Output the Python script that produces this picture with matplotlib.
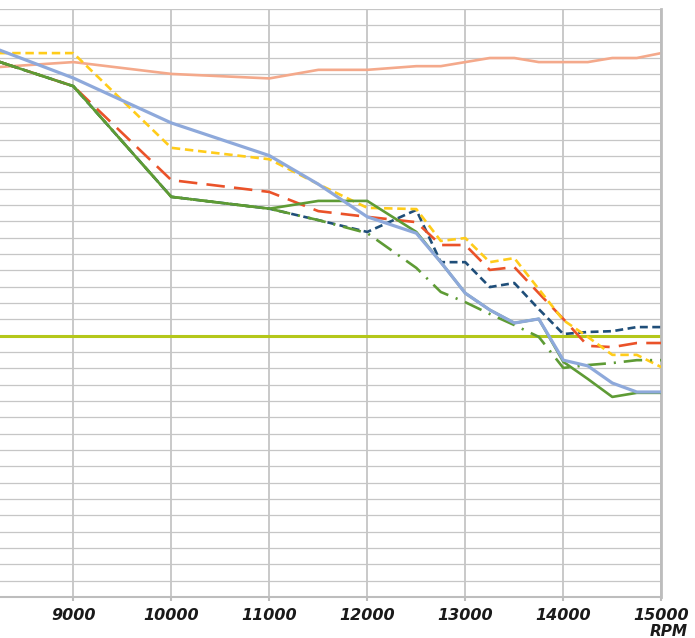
import numpy as np
import matplotlib
matplotlib.use('Agg')
import matplotlib.pyplot as plt

plt.rcParams['font.family'] = 'DejaVu Sans'
plt.rcParams['font.size'] = 11.5

######## data (y in chart units, one grid step = 4) ########
rpm = [8000, 9000, 10000, 11000, 11500, 12000, 12500, 12750, 13000,
       13250, 13500, 13750, 14000, 14250, 14500, 14750, 15000]

salmon = [129.4, 131.0, 128.1, 127.0, 129.1, 129.1, 130.0, 130.0, 131.0,
          132.0, 132.0, 131.0, 131.0, 131.0, 132.0, 132.0, 133.2]
yellow = [133.2, 133.2, 110.0, 107.2, 101.1, 95.3, 95.0, 87.2, 87.9,
          82.0, 83.0, 75.4, 67.8, 63.7, 59.3, 59.3, 56.3]
red = [133.0, 125.1, 102.1, 99.2, 94.5, 93.1, 91.8, 86.2, 86.2,
       80.1, 80.8, 74.4, 68.1, 61.5, 61.2, 62.2, 62.2]
navy = [133.0, 125.1, 98.0, 95.1, 92.3, 89.4, 94.8, 82.0, 82.0,
        75.9, 76.9, 70.5, 64.4, 64.9, 65.1, 66.1, 66.1]
green_dd = [133.0, 125.1, 98.0, 95.1, 92.3, 89.1, 80.6, 74.7, 72.2,
            69.3, 66.6, 63.7, 56.1, 56.8, 57.3, 58.0, 58.0]
green = [133.0, 125.1, 98.0, 95.1, 97.0, 97.0, 89.4, 82.0, 74.4,
         70.3, 67.1, 68.1, 57.6, 53.4, 49.0, 50.0, 50.0]
lavender = [136.2, 127.1, 116.1, 108.1, 101.1, 93.1, 89.1, 82.0, 74.4,
            70.3, 67.1, 68.1, 58.0, 56.6, 52.4, 50.2, 50.2]
limit = 64

xticks = [8000, 9000, 10000, 11000, 12000, 13000, 14000, 15000]

fig = plt.figure(figsize=(6.95, 6.38), dpi=100)
# axes run off the left edge of the picture, like the cropped original
ax = fig.add_axes([-24.7/695, 41/638, 686/695, 588/638])

ax.set_xlim(8000, 15000)
ax.set_ylim(0, 144)
ax.set_xticks(xticks)
ax.set_yticks(np.arange(0, 145, 4))

########### grid ###########
ax.grid(axis='y', color='#c6c6c6', linewidth=0.9, zorder=0)
ax.grid(axis='x', color='#c0c0c0', linewidth=1.2, zorder=0)
ax.set_axisbelow(True)

########### limit line ###########
ax.axhline(limit, color='#b4c71a', linewidth=2.2, zorder=1)

########### series ###########
ax.plot(rpm, salmon, color='#f4a98b', linewidth=1.9, zorder=2)
ax.plot(rpm, navy, color='#1f4e79', linewidth=1.9, dashes=[3, 1.7], zorder=3)
ax.plot(rpm, red, color='#ea5229', linewidth=1.9, dashes=[7, 3.5], zorder=4)
ax.plot(rpm, yellow, color='#ffcc1a', linewidth=1.9, dashes=[3.2, 1.8], zorder=5)
ax.plot(rpm, green_dd, color='#5e9b35', linewidth=1.9, dashes=[7, 3, 0.8, 3], zorder=6)
ax.plot(rpm, green, color='#5e9b35', linewidth=1.9, zorder=7)
ax.plot(rpm, lavender, color='#8ea9db', linewidth=2.3, zorder=8)

########### frame ###########
for s in ['top', 'left']:
    ax.spines[s].set_visible(False)
ax.spines['right'].set_color('#bdbdbd')
ax.spines['right'].set_linewidth(2.0)
ax.spines['bottom'].set_color('#bdbdbd')
ax.spines['bottom'].set_linewidth(1.5)

ax.tick_params(axis='y', left=False, labelleft=False)
ax.tick_params(axis='x', length=3, width=1.5, color='#bdbdbd', pad=5,
               labelcolor='#1a1a1a')
for lab in ax.get_xticklabels():
    lab.set_fontweight('bold')
    lab.set_fontstyle('italic')

fig.text(688/695, 1 - 632/638, 'RPM', ha='right', va='center',
         fontweight='bold', fontstyle='italic', fontsize=11, color='#1a1a1a')

plt.savefig('out.png', dpi=100)
